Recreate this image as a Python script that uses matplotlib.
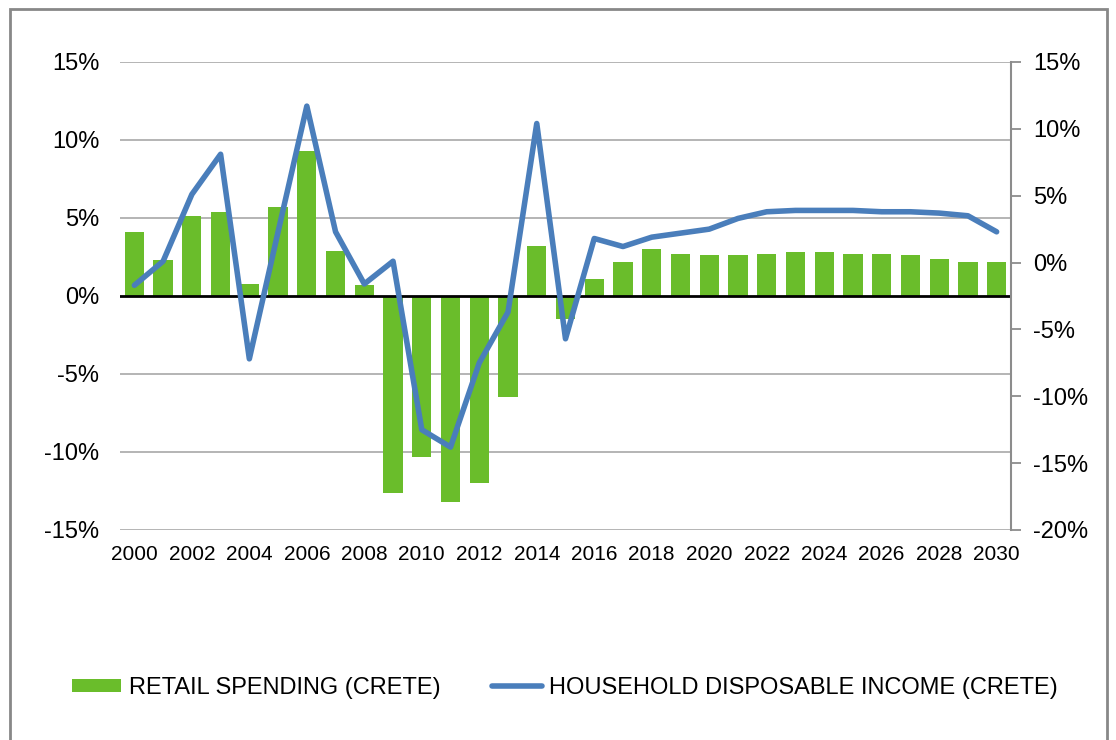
import matplotlib.pyplot as plt
from matplotlib.patches import Rectangle
from matplotlib.ticker import FuncFormatter
import numpy as np

plt.rcParams['font.family'] = ['Liberation Sans', 'DejaVu Sans']

# data (percent)
years = list(range(2000, 2031))
retail_spending = [4.1, 2.3, 5.1, 5.4, 0.8, 5.7, 9.3, 2.9, 0.7, -12.6,
                   -10.3, -13.2, -12.0, -6.5, 3.2, -1.5, 1.1, 2.2, 3.0, 2.7,
                   2.6, 2.6, 2.7, 2.8, 2.8, 2.7, 2.7, 2.6, 2.4, 2.2, 2.2]
household_income = [-1.7, 0.1, 5.1, 8.1, -7.2, 2.3, 11.7, 2.3, -1.6, 0.1,
                    -12.5, -13.8, -7.5, -3.7, 10.4, -5.7, 1.8, 1.2, 1.9, 2.2,
                    2.5, 3.3, 3.8, 3.9, 3.9, 3.9, 3.8, 3.8, 3.7, 3.5, 2.3]
left_ticks = [-15, -10, -5, 0, 5, 10, 15]
right_ticks = [-20, -15, -10, -5, 0, 5, 10, 15]

GREEN = '#6ABD2B'
BLUE = '#4A7EBB'
GRID = '#A0A0A0'

fig = plt.figure(figsize=(11.16, 7.4), dpi=100)
ax = fig.add_axes([120 / 1116, 1 - 530 / 740, 891 / 1116, 468 / 740])
x = np.arange(len(years))

# gridlines on the left axis
for t in left_ticks:
    if t == 0:
        continue
    ax.axhline(t, color=GRID, lw=1.1, zorder=0)
ax.bar(x, retail_spending, width=0.67, color=GREEN, zorder=2,
       label='RETAIL SPENDING (CRETE)')
ax.axhline(0, color='black', lw=2, zorder=3)

ax.set_xlim(-0.5, len(years) - 0.5)
ax.set_ylim(-15, 15)
ax.set_yticks(left_ticks)
ax.yaxis.set_major_formatter(FuncFormatter(lambda v, p: f'{v:.0f}%'))
ax.set_xticks(x[::2])
ax.set_xticklabels([str(y) for y in years[::2]])
ax.tick_params(axis='y', length=0, pad=15, labelsize=17)
ax.tick_params(axis='x', length=0, pad=11, labelsize=15)
for s in ax.spines.values():
    s.set_visible(False)

# second axis for the income line
ax2 = ax.twinx()
ax2.plot(x, household_income, color=BLUE, lw=4, solid_joinstyle='round',
         solid_capstyle='round', label='HOUSEHOLD DISPOSABLE INCOME (CRETE)')
ax2.set_ylim(-20, 15)
ax2.set_yticks(right_ticks)
ax2.yaxis.set_major_formatter(FuncFormatter(lambda v, p: f'{v:.0f}%'))
ax2.tick_params(axis='y', length=7, width=1.3, color='#8C8C8C', pad=9,
                labelsize=17, direction='out')
for side in ['top', 'bottom', 'left']:
    ax2.spines[side].set_visible(False)
ax2.spines['right'].set_color('#8C8C8C')
ax2.spines['right'].set_linewidth(1.5)

# legend along the bottom
h1, l1 = ax.get_legend_handles_labels()
h2, l2 = ax2.get_legend_handles_labels()
fig.legend(h1 + h2, l1 + l2, loc='center', bbox_to_anchor=(0.506, 1 - 688 / 740),
           ncol=2, frameon=False, fontsize=17, handlelength=2.1,
           handleheight=0.5, handletextpad=0.3, columnspacing=2.2)

# outer chart border
fig.patches.append(Rectangle((10 / 1116, -0.05), 1097 / 1116, 1.05 - 9 / 740,
                             transform=fig.transFigure, fill=False,
                             edgecolor='#888888', lw=2))

fig.savefig('out.png', dpi=100)
